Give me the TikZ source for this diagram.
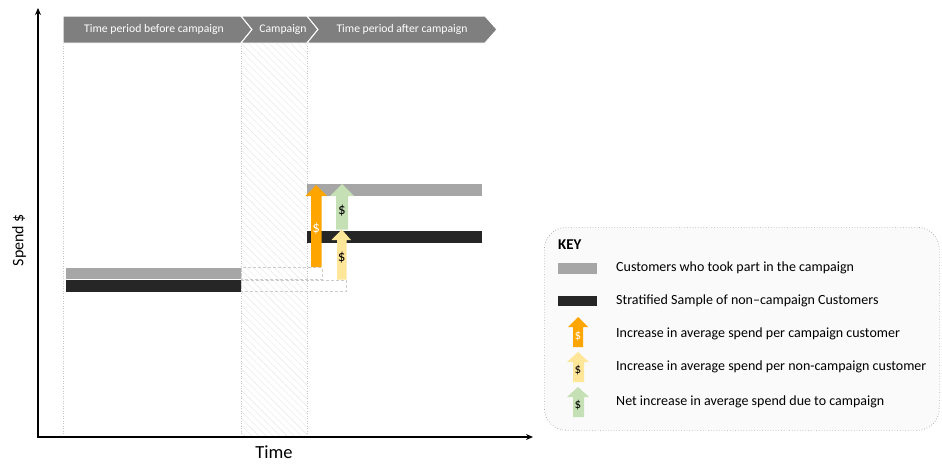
\documentclass[tikz,border=0pt]{standalone}
\usepackage{fontspec}
\setmainfont{Carlito}
\usetikzlibrary{patterns.meta,arrows.meta}
\definecolor{cgray}{HTML}{A6A6A6}
\definecolor{cdark}{HTML}{262626}
\definecolor{cband}{HTML}{7F7F7F}
\definecolor{corange}{HTML}{FFA500}
\definecolor{cyellow}{HTML}{FFE699}
\definecolor{cgreen}{HTML}{C5E0B4}
\definecolor{ckeyfill}{HTML}{FAFAFA}
\tikzset{
  band/.style={fill=cband,draw=white,line width=1pt},
  bandtext/.style={text=white,font=\fontsize{11.7}{14}\selectfont,inner sep=0pt},
  guide/.style={draw=gray!45,dotted,line width=0.5pt},
  dashbox/.style={draw=gray!40,dashed,line width=0.8pt,dash pattern=on 3pt off 2pt},
  keytext/.style={anchor=west,font=\fontsize{14}{17}\selectfont,inner sep=0pt},
  dollar/.style={font=\fontsize{15}{17}\selectfont,inner sep=0pt},
  kdollar/.style={font=\fontsize{13}{15}\selectfont,inner sep=0pt},
  axis/.style={line width=1.3pt,-{Stealth[length=7pt,width=6pt]}},
}
\begin{document}
\begin{tikzpicture}[x=1pt,y=-1pt]
\useasboundingbox (0,0) rectangle (942,474);
% hatched campaign area
\fill[pattern={Lines[angle=-45,distance=5pt,line width=0.4pt]},pattern color=gray!20] (241,43) rectangle (307,436);
% guides
\draw[guide] (63,43) -- (63,436);
\draw[guide] (241,43) -- (241,436);
\draw[guide] (307,43) -- (307,436);
% banner chevrons
\filldraw[band] (63,16) -- (241,16) -- (252,29.5) -- (241,43) -- (63,43) -- cycle;
\filldraw[band] (241,16) -- (307,16) -- (318,29.5) -- (307,43) -- (241,43) -- (252,29.5) -- cycle;
\filldraw[band] (307,16) -- (485,16) -- (497,29.5) -- (485,43) -- (307,43) -- (318,29.5) -- cycle;
\node[bandtext] (b1) at (154,29.5) {Time period before campaign};
\node[bandtext] (b2) at (283,29.5) {Campaign};
\node[bandtext] (b3) at (402,29.5) {Time period after campaign};
% before bars
\fill[cgray] (66,267.5) rectangle (241,279);
\fill[cdark] (66,280) rectangle (241,291.5);
\draw[dashbox] (241,267.5) rectangle (322,279);
\draw[dashbox] (241,280) rectangle (346,291.5);
% after bars
\fill[cgray] (307,184) rectangle (482,195.5);
\fill[cdark] (307,231) rectangle (482,242.5);
% orange arrow
\fill[corange] (311,267) -- (311,196) -- (305.5,196) -- (316.2,185) -- (327,196) -- (321.5,196) -- (321.5,267) -- cycle;
\node[dollar,text=white] (d1) at (316.2,229) {\$};
% green arrow
\fill[cgreen] (336,229.5) -- (336,196) -- (330,196) -- (342,184) -- (354,196) -- (348,196) -- (348,229.5) -- cycle;
\node[dollar] (d2) at (342,211) {\$};
% yellow arrow
\fill[cyellow] (337,279.5) -- (337,240) -- (331.5,240) -- (341.7,229.5) -- (351,240) -- (346.5,240) -- (346.5,279.5) -- cycle;
\node[dollar] (d3) at (341.7,258) {\$};
% axes
\coordinate (origin) at (38,437);
\coordinate (ytip) at (38,8);
\coordinate (xtip) at (533,437);
\draw[axis] ([yshift=0.65pt]origin) -- (ytip);
\draw[axis] ([xshift=-0.65pt]origin) -- (xtip);
\node[font=\fontsize{16}{18}\selectfont,rotate=90,inner sep=0pt] (ylab) at (19,240) {Spend \$};
\node[font=\fontsize{18.5}{21}\selectfont,inner sep=0pt] (xlab) at (274,452) {Time};
% key
\node[draw=gray!70,dotted,line width=0.7pt,fill=ckeyfill,rounded corners=22pt,minimum width=395pt,minimum height=203pt,anchor=north west] (key) at (544,227) {};
\node[anchor=west,font=\bfseries\fontsize{15}{18}\selectfont,inner sep=0pt] (keytitle) at (558,245) {KEY};
\fill[cgray] (558,263) rectangle (597,274);
\node[keytext] (k1) at (616,268) {Customers who took part in the campaign};
\fill[cdark] (558,296) rectangle (597,306);
\node[keytext] (k2) at (616,301) {Stratified Sample of non–campaign Customers};
\fill[corange] (573,347) -- (573,327) -- (568,327) -- (578,317) -- (588,327) -- (583,327) -- (583,347) -- cycle;
\node[kdollar,text=white] (kd1) at (578,336) {\$};
\node[keytext] (k3) at (616,333.5) {Increase in average spend per campaign customer};
\fill[cyellow] (573,382) -- (573,362) -- (567,362) -- (578,352) -- (589,362) -- (584,362) -- (584,382) -- cycle;
\node[kdollar] (kd2) at (578,370) {\$};
\node[keytext] (k4) at (616,367) {Increase in average spend per non-campaign customer};
\fill[cgreen] (573,417) -- (573,397) -- (567,397) -- (578,387) -- (589,397) -- (584,397) -- (584,417) -- cycle;
\node[kdollar] (kd3) at (578,405) {\$};
\node[keytext] (k5) at (616,402) {Net increase in average spend due to campaign};
\end{tikzpicture}
\end{document}
